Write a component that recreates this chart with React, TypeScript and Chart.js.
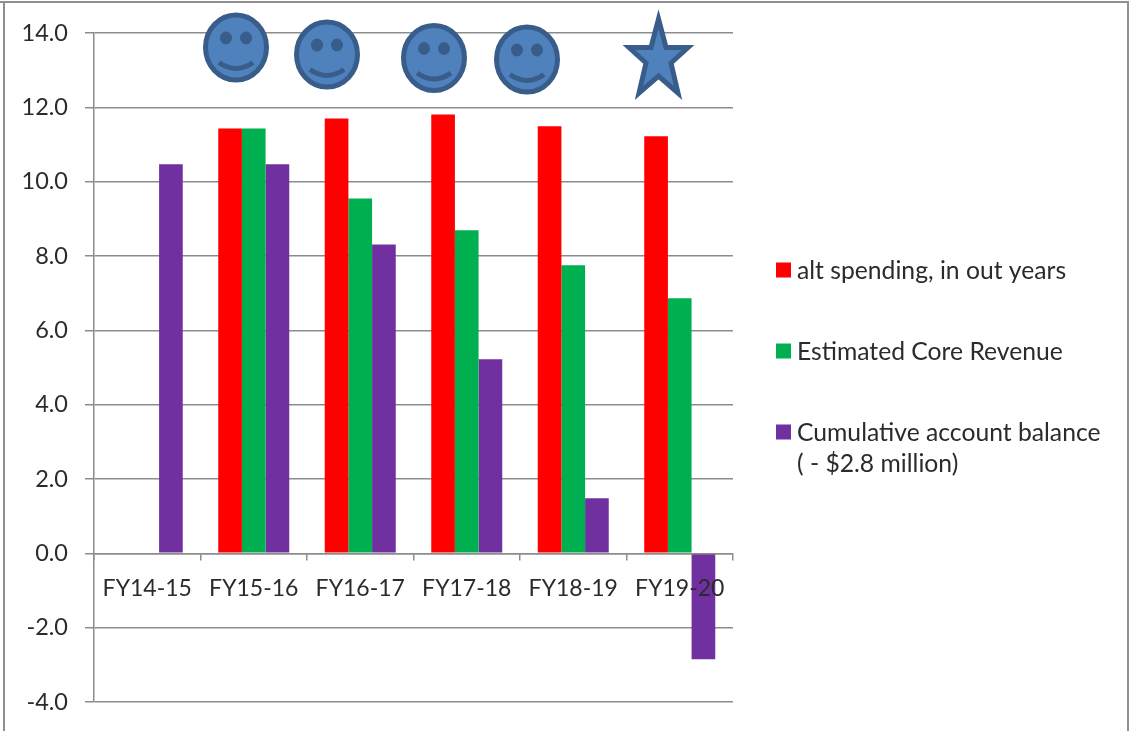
import React, { useEffect, useRef } from "react";
import { Chart, registerables } from "chart.js";

Chart.register(...registerables);

const categories = ["FY14-15", "FY15-16", "FY16-17", "FY17-18", "FY18-19", "FY19-20"];
const altSpending = [null, 11.43, 11.7, 11.81, 11.49, 11.22];
const coreRevenue = [null, 11.43, 9.55, 8.69, 7.75, 6.86];
const accountBalance = [10.47, 10.47, 8.31, 5.22, 1.48, -2.85];
const seriesNames = ["alt spending, in out years", "Estimated Core Revenue", "Cumulative account balance"];
const legendExtraLine = "( - $2.8 million)";
const colors = ["#ff0000", "#00b050", "#7030a0"];
const legendRows = [271, 352, 433];
const smileys = [
  [236, 47.5, 33, 35],
  [327, 54.5, 33, 35],
  [434, 58, 33, 35],
  [527, 59.5, 33, 35],
];
const starCenterX = 658.5;
const starOutline = [
  [0, 19], [7.5, 47.5], [29.5, 47.5], [12.5, 63], [19.5, 93], [0, 76], [-19.5, 93], [-12.5, 63], [-29.5, 47.5], [-7.5, 47.5],
];

const FONT = "Lato, Carlito, sans-serif";
const TEXT = "#2b2b2b";
const GRID = "#8c8c8c";
const FILL = "#4f81bd";
const EDGE = "#385d8a";

const decorations = {
  id: "decorations",
  afterDraw(chart: any) {
    const ctx = chart.ctx;
    ctx.save();

    ctx.fillStyle = "#8f8f8f";
    ctx.fillRect(0, 1, 1129, 2);
    ctx.fillRect(3, 1, 2, 730);
    ctx.fillRect(1127, 1, 2, 730);

    for (const [x, y, rx, ry] of smileys) {
      ctx.fillStyle = FILL;
      ctx.strokeStyle = EDGE;
      ctx.lineWidth = 5;
      ctx.beginPath();
      ctx.ellipse(x, y, rx - 2.5, ry - 2.5, 0, 0, Math.PI * 2);
      ctx.fill();
      ctx.stroke();
      ctx.fillStyle = EDGE;
      for (const side of [-1, 1]) {
        ctx.beginPath();
        ctx.ellipse(x + side * 10, y - 9.5, 6, 6.5, 0, 0, Math.PI * 2);
        ctx.fill();
      }
      ctx.lineWidth = 5;
      ctx.beginPath();
      ctx.moveTo(x - 17, y + 15);
      ctx.quadraticCurveTo(x, y + 27, x + 17, y + 15);
      ctx.stroke();
    }

    ctx.fillStyle = FILL;
    ctx.strokeStyle = EDGE;
    ctx.lineWidth = 5;
    ctx.lineJoin = "miter";
    ctx.miterLimit = 10;
    ctx.beginPath();
    starOutline.forEach(([dx, py], i) => {
      const px = starCenterX + dx;
      if (i === 0) ctx.moveTo(px, py);
      else ctx.lineTo(px, py);
    });
    ctx.closePath();
    ctx.fill();
    ctx.stroke();

    ctx.font = `24.7px ${FONT}`;
    ctx.textBaseline = "middle";
    ctx.textAlign = "left";
    seriesNames.forEach((name, i) => {
      ctx.fillStyle = colors[i];
      ctx.fillRect(776, legendRows[i] - 8.5, 15, 15);
      ctx.fillStyle = TEXT;
      ctx.fillText(name, 797, legendRows[i]);
    });
    ctx.fillText(legendExtraLine, 797, legendRows[2] + 31);
    ctx.restore();
  },
};

export default function App() {
  const ref = useRef<HTMLCanvasElement>(null);
  useEffect(() => {
    const chart = new Chart(ref.current!, {
      type: "bar",
      data: {
        labels: categories,
        datasets: [altSpending, coreRevenue, accountBalance].map((data, i) => ({
          label: seriesNames[i],
          data,
          backgroundColor: colors[i],
          borderWidth: 0,
          categoryPercentage: 0.6667,
          barPercentage: 1,
        })),
      },
      options: {
        animation: false,
        responsive: false,
        layout: { padding: { left: 0, top: 33, right: 396, bottom: 29 } },
        plugins: { legend: { display: false }, tooltip: { enabled: false } },
        scales: {
          x: {
            position: { y: 0 },
            offset: true,
            afterFit(scale: any) {
              scale.height = 0;
            },
            grid: { offset: true, drawOnChartArea: false, drawTicks: true, tickLength: 6, color: GRID, lineWidth: 1.5, z: 1 },
            border: { display: true, color: GRID, width: 1.5, z: 1 },
            ticks: { color: TEXT, font: { family: FONT, size: 23 }, padding: 15, maxRotation: 0, autoSkip: false, z: 1 },
          },
          y: {
            min: -4,
            max: 14,
            afterFit(scale: any) {
              scale.width = 94;
              scale.paddingTop = 0;
              scale.paddingBottom = 0;
            },
            grid: { color: GRID, lineWidth: 1.5, tickLength: 9 },
            border: { display: true, color: GRID, width: 1.5 },
            ticks: {
              stepSize: 2,
              color: TEXT,
              font: { family: FONT, size: 23.5 },
              padding: 17,
              callback: (v: any) => Number(v).toFixed(1),
            },
          },
        },
      },
      plugins: [decorations],
    });
    return () => chart.destroy();
  }, []);
  return (
    <div style={{ position: "absolute", left: 0, top: 0, width: 1129, height: 731, background: "#fff" }}>
      <canvas ref={ref} width={1129} height={731} style={{ display: "block" }} />
    </div>
  );
}
